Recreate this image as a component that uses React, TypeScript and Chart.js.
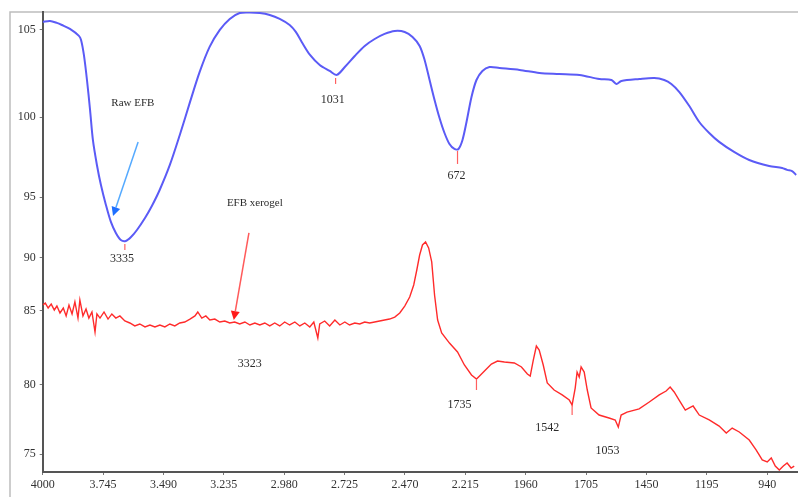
import { useEffect, useRef } from "react";
import { Chart, registerables } from "chart.js";
Chart.register(...registerables);

// ---- Axis ticks ----
const X_TICKS = [4000, 3745, 3490, 3235, 2980, 2725, 2470, 2215, 1960, 1705, 1450, 1195, 940];
const X_TICK_LABELS = ["4000", "3.745", "3.490", "3.235", "2.980", "2.725", "2.470", "2.215", "1960", "1705", "1450", "1195", "940"];
const Y_TICK_LABELS = ["105", "100", "95", "90", "85", "80", "75"];
const Y_TICK_POS = [105, 98.84, 93.18, 88.87, 85.12, 79.89, 75];

// ---- Raw EFB (blue) ----
const RAW_WN = [4000, 3969, 3940, 3919, 3885, 3847, 3838, 3826, 3813, 3800, 3788, 3771, 3754, 3733, 3712, 3691, 3670, 3649, 3627, 3602, 3568, 3539, 3506, 3463, 3421, 3379, 3337, 3295, 3252, 3210, 3168, 3126, 3083, 3041, 2999, 2957, 2931, 2906, 2871, 2830, 2788, 2758, 2724, 2682, 2640, 2598, 2556, 2513, 2471, 2438, 2408, 2387, 2366, 2345, 2324, 2303, 2282, 2261, 2244, 2227, 2210, 2189, 2168, 2143, 2113, 2071, 1986, 1902, 1818, 1733, 1649, 1598, 1577, 1556, 1480, 1417, 1375, 1345, 1311, 1269, 1227, 1185, 1143, 1080, 1016, 932, 877, 856, 835, 818];
const RAW_T = [105.57, 105.64, 105.5, 105.35, 105.07, 104.58, 104.29, 103.23, 101.46, 99.34, 97.22, 95.45, 94.03, 92.62, 91.42, 90.64, 90.14, 90.07, 90.35, 90.85, 91.7, 92.55, 93.68, 95.45, 97.57, 99.84, 102.03, 103.8, 105.0, 105.78, 106.2, 106.24, 106.2, 106.06, 105.78, 105.35, 104.86, 104.15, 103.23, 102.52, 102.1, 101.82, 102.38, 103.16, 103.87, 104.36, 104.72, 104.93, 104.86, 104.5, 103.87, 102.88, 101.46, 100.05, 98.77, 97.71, 96.93, 96.58, 96.58, 97.22, 98.49, 100.26, 101.46, 102.1, 102.38, 102.31, 102.17, 101.96, 101.89, 101.82, 101.53, 101.46, 101.18, 101.39, 101.53, 101.6, 101.46, 101.18, 100.61, 99.62, 98.49, 97.71, 97.08, 96.37, 95.8, 95.38, 95.24, 95.1, 95.02, 94.74];

// ---- EFB xerogel (red) ----
const XER_WN = [4000, 3989, 3977, 3964, 3951, 3940, 3927, 3913, 3901, 3889, 3876, 3864, 3851, 3843, 3830, 3817, 3805, 3792, 3779, 3771, 3758, 3741, 3724, 3708, 3691, 3674, 3653, 3632, 3611, 3590, 3568, 3547, 3526, 3505, 3484, 3463, 3442, 3421, 3400, 3378, 3357, 3345, 3328, 3311, 3294, 3273, 3252, 3231, 3210, 3189, 3168, 3146, 3125, 3104, 3083, 3062, 3041, 3020, 2999, 2978, 2957, 2935, 2914, 2893, 2872, 2855, 2838, 2830, 2809, 2788, 2766, 2745, 2724, 2704, 2682, 2661, 2640, 2619, 2598, 2577, 2556, 2535, 2513, 2492, 2471, 2450, 2433, 2420, 2408, 2396, 2383, 2370, 2357, 2345, 2332, 2315, 2282, 2248, 2219, 2189, 2168, 2155, 2130, 2105, 2079, 2050, 2008, 1978, 1953, 1941, 1928, 1915, 1903, 1886, 1869, 1840, 1806, 1776, 1764, 1751, 1743, 1734, 1726, 1713, 1700, 1684, 1650, 1608, 1582, 1569, 1557, 1532, 1481, 1438, 1396, 1367, 1350, 1333, 1312, 1286, 1269, 1253, 1227, 1185, 1143, 1113, 1088, 1058, 1016, 987, 961, 940, 923, 906, 889, 872, 856, 839, 826];
const XER_T = [85.54, 85.68, 85.33, 85.61, 85.19, 85.47, 84.98, 85.33, 84.77, 85.54, 84.91, 85.76, 84.62, 85.9, 84.77, 85.26, 84.62, 85.05, 83.63, 84.91, 84.62, 85.05, 84.55, 84.91, 84.62, 84.77, 84.41, 84.27, 84.06, 84.2, 83.99, 84.13, 83.99, 84.13, 83.99, 84.2, 84.06, 84.27, 84.34, 84.55, 84.77, 85.05, 84.62, 84.77, 84.48, 84.55, 84.34, 84.41, 84.27, 84.34, 84.2, 84.34, 84.13, 84.27, 84.13, 84.27, 84.06, 84.27, 84.06, 84.34, 84.13, 84.34, 84.06, 84.27, 83.99, 84.34, 83.21, 84.2, 84.41, 84.06, 84.48, 84.13, 84.34, 84.13, 84.27, 84.2, 84.34, 84.27, 84.34, 84.41, 84.48, 84.55, 84.69, 84.98, 85.47, 86.11, 86.96, 88.02, 89.08, 89.79, 90.0, 89.58, 88.59, 86.25, 84.48, 83.56, 82.85, 82.22, 81.3, 80.59, 80.31, 80.52, 80.94, 81.37, 81.58, 81.51, 81.44, 81.16, 80.66, 80.52, 81.65, 82.64, 82.36, 81.3, 80.03, 79.53, 79.18, 78.82, 78.47, 79.67, 80.8, 80.45, 81.16, 80.8, 79.53, 78.26, 77.76, 77.55, 77.41, 76.91, 77.76, 77.97, 78.19, 78.68, 79.18, 79.46, 79.74, 79.39, 78.82, 78.11, 78.26, 78.4, 77.76, 77.41, 76.98, 76.49, 76.84, 76.56, 75.99, 75.29, 74.58, 74.44, 74.72, 74.15, 73.87, 74.15, 74.37, 74.01, 74.15];

// ---- Annotations ----
const PEAK_LABELS = ["3335", "1031", "672", "3323", "1735", "1542", "1053"];
const PEAK_LABEL_X = [3665, 2775, 2252, 3125, 2240, 1869, 1615];
const PEAK_LABEL_Y = [88.8, 100.05, 94.67, 81.37, 78.47, 76.84, 75.21];
const MARK_X = [3653, 2763, 2248, 2168, 1764];
const MARK_Y1 = [89.86, 101.6, 96.44, 80.24, 78.47];
const MARK_Y2 = [89.43, 101.18, 95.52, 79.53, 77.76];
const SERIES_LABELS = ["Raw EFB", "EFB xerogel"];
const SERIES_LABEL_X = [3619, 3104];
const SERIES_LABEL_Y = [99.84, 92.76];
const ARROW_FROM_X = [3597, 3129];
const ARROW_FROM_Y = [97.08, 90.64];
const ARROW_TO_X = [3703, 3193];
const ARROW_TO_Y = [91.84, 84.48];

export default function App() {
  const ref = useRef<HTMLCanvasElement>(null);
  useEffect(() => {
    if (!ref.current) return;
    const frame = {
      id: "frame",
      beforeDraw(chart: any) {
        const ctx = chart.ctx;
        const a = chart.chartArea;
        ctx.save();
        ctx.fillStyle = "#ffffff";
        ctx.fillRect(0, 0, chart.width, chart.height);
        ctx.strokeStyle = "#bdbdbd";
        ctx.lineWidth = 1.5;
        ctx.beginPath();
        ctx.moveTo(10, chart.height);
        ctx.lineTo(10, a.top);
        ctx.lineTo(a.right, a.top);
        ctx.stroke();
        ctx.restore();
      },
    };
    const annot = {
      id: "annot",
      afterDatasetsDraw(chart: any) {
        const ctx = chart.ctx;
        const xs = chart.scales.x;
        const ys = chart.scales.y;
        ctx.save();
        // red peak marks
        ctx.strokeStyle = "#ff6060";
        ctx.lineWidth = 1.2;
        MARK_X.forEach((x, i) => {
          const px = xs.getPixelForValue(x);
          ctx.beginPath();
          ctx.moveTo(px, ys.getPixelForValue(MARK_Y1[i]));
          ctx.lineTo(px, ys.getPixelForValue(MARK_Y2[i]));
          ctx.stroke();
        });
        // peak labels
        ctx.fillStyle = "#2b2b2b";
        ctx.textAlign = "center";
        ctx.textBaseline = "middle";
        ctx.font = "12px 'Liberation Serif', serif";
        PEAK_LABELS.forEach((t, i) => {
          ctx.fillText(t, xs.getPixelForValue(PEAK_LABEL_X[i]), ys.getPixelForValue(PEAK_LABEL_Y[i]));
        });
        ctx.font = "11px 'Liberation Serif', serif";
        SERIES_LABELS.forEach((t, i) => {
          ctx.fillText(t, xs.getPixelForValue(SERIES_LABEL_X[i]), ys.getPixelForValue(SERIES_LABEL_Y[i]));
        });
        // arrows
        const lineCols = ["#55aaff", "#ff5a5a"];
        const headCols = ["#1f6fff", "#ff1a1a"];
        ARROW_FROM_X.forEach((fx, i) => {
          const x1 = xs.getPixelForValue(fx);
          const y1 = ys.getPixelForValue(ARROW_FROM_Y[i]);
          const x2 = xs.getPixelForValue(ARROW_TO_X[i]);
          const y2 = ys.getPixelForValue(ARROW_TO_Y[i]);
          const ang = Math.atan2(y2 - y1, x2 - x1);
          const hl = 9, hw = 4.5;
          const bx = x2 - hl * Math.cos(ang);
          const by = y2 - hl * Math.sin(ang);
          ctx.strokeStyle = lineCols[i];
          ctx.lineWidth = 1.5;
          ctx.beginPath();
          ctx.moveTo(x1, y1);
          ctx.lineTo(bx, by);
          ctx.stroke();
          ctx.fillStyle = headCols[i];
          ctx.beginPath();
          ctx.moveTo(x2, y2);
          ctx.lineTo(bx + hw * Math.sin(ang), by - hw * Math.cos(ang));
          ctx.lineTo(bx - hw * Math.sin(ang), by + hw * Math.cos(ang));
          ctx.closePath();
          ctx.fill();
        });
        ctx.restore();
      },
    };
    const chart = new Chart(ref.current, {
      type: "line",
      data: {
        datasets: [
          {
            label: "Raw EFB",
            data: RAW_WN.map((x, i) => ({ x, y: RAW_T[i] })),
            borderColor: "#5b5bf6",
            borderWidth: 2,
            pointRadius: 0,
            tension: 0.3,
            fill: false,
          },
          {
            label: "EFB xerogel",
            data: XER_WN.map((x, i) => ({ x, y: XER_T[i] })),
            borderColor: "#ff2b2b",
            borderWidth: 1.4,
            pointRadius: 0,
            tension: 0,
            fill: false,
          },
        ],
      },
      options: {
        animation: false,
        responsive: false,
        maintainAspectRatio: false,
        layout: { padding: { left: 10, top: 12, right: 0, bottom: 0 } },
        plugins: { legend: { display: false }, tooltip: { enabled: false } },
        scales: {
          x: {
            type: "linear",
            reverse: true,
            min: 810,
            max: 4000,
            afterBuildTicks: (s: any) => {
              s.ticks = X_TICKS.map((v) => ({ value: v }));
            },
            afterFit: (s: any) => {
              s.height = 25;
            },
            ticks: {
              autoSkip: false,
              maxRotation: 0,
              padding: 3,
              color: "#333",
              font: { family: "'Liberation Serif', serif", size: 12 },
              callback: (v: any) => {
                const i = X_TICKS.indexOf(Number(v));
                return i >= 0 ? X_TICK_LABELS[i] : "";
              },
            },
            grid: { drawOnChartArea: false, drawTicks: true, tickLength: 3, color: "#777" },
            border: { display: true, color: "#555", width: 2 },
          },
          y: {
            type: "linear",
            min: 73.73,
            max: 106.27,
            afterBuildTicks: (s: any) => {
              s.ticks = Y_TICK_POS.map((v) => ({ value: v }));
            },
            afterFit: (s: any) => {
              s.width = 32.7;
            },
            ticks: {
              autoSkip: false,
              padding: 4,
              color: "#333",
              font: { family: "'Liberation Serif', serif", size: 12 },
              callback: (v: any) => {
                const i = Y_TICK_POS.indexOf(Number(v));
                return i >= 0 ? Y_TICK_LABELS[i] : "";
              },
            },
            grid: { drawOnChartArea: false, drawTicks: true, tickLength: 3, color: "#777" },
            border: { display: true, color: "#555", width: 2 },
          },
        },
      },
      plugins: [frame, annot],
    });
    return () => chart.destroy();
  }, []);
  return (
    <div style={{ position: "fixed", left: 0, top: 0, width: 798, height: 497, background: "#fff" }}>
      <canvas ref={ref} width={798} height={497} style={{ display: "block" }} />
    </div>
  );
}
